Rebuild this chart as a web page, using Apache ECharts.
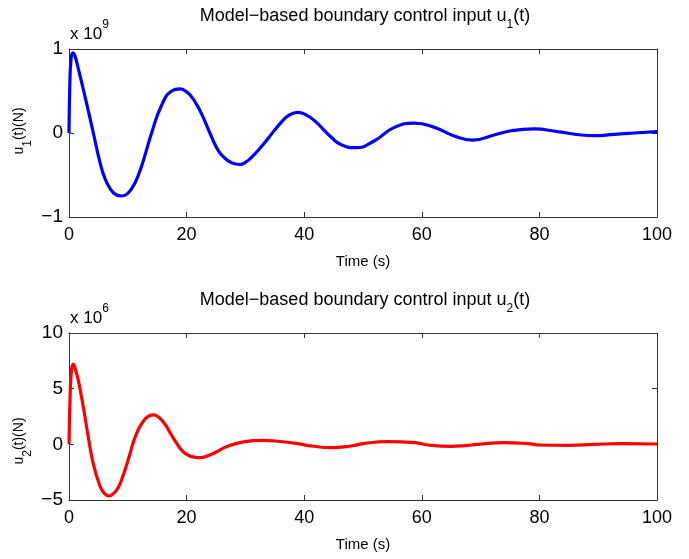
<!DOCTYPE html>
<html>
<head>
<meta charset="utf-8">
<script src="https://cdn.jsdelivr.net/npm/echarts@6/dist/echarts.min.js"></script>
<style>
html,body{margin:0;padding:0;background:#fff;}
#c{width:689px;height:559px;}
</style>
</head>
<body>
<div id="c"></div>
<script>
// Time ticks
var xTicks = [0, 20, 40, 60, 80, 100];
// u1(t) in units of 1e9 N : [time (s), value]
var u1Data = [
  [0, 0], [0.15, 0.6], [0.35, 0.88], [0.63, 0.955], [1.0, 0.92], [1.6, 0.76], [2.5, 0.5],
  [3.3, 0.26], [4.14, 0.0], [5.27, -0.35], [6.0, -0.52], [6.97, -0.66], [8.0, -0.735],
  [8.96, -0.75], [9.9, -0.725], [10.94, -0.63], [11.8, -0.5], [12.64, -0.33], [14.05, 0.0], [15.75, 0.33],
  [17.45, 0.5], [18.86, 0.525], [20.0, 0.49], [20.85, 0.43], [21.7, 0.34], [22.55, 0.227], [23.96, 0.0], [25.0, -0.16], [25.95, -0.26],
  [27.65, -0.355], [29.06, -0.375], [30.1, -0.345], [31.04, -0.29], [32.74, -0.16], [33.8, -0.07], [36.09, 0.127],
  [37.5, 0.215], [38.9, 0.246], [40.3, 0.215], [41.75, 0.147], [44.6, -0.05], [46.3, -0.14], [48.84, -0.175], [51.95, -0.092],
  [55.34, 0.067], [58.74, 0.118], [62.14, 0.067], [65.5, -0.035], [68.65, -0.084], [72.3, -0.024],
  [75.2, 0.027], [79.1, 0.048], [83.1, 0.016], [87.1, -0.024], [89.3, -0.032], [92.7, -0.016],
  [96.1, 0.0], [100, 0.016]
];
// u2(t) in units of 1e6 N : [time (s), value]
var u2Data = [
  [0, 0], [0.2, 4.5], [0.45, 6.8], [0.75, 7.19], [1.1, 6.7], [1.6, 5.7], [2.45, 3.3], [3.3, 0.6],
  [4.15, -1.8], [5.27, -3.74], [6.0, -4.4], [6.8, -4.64], [7.6, -4.4], [8.4, -3.85], [9.1, -2.95],
  [9.8, -1.85], [10.4, -0.8], [10.95, 0.2], [11.6, 1.1], [12.36, 1.85], [13.3, 2.45], [14.35, 2.64],
  [15.3, 2.4], [16.33, 1.8], [17.3, 0.95], [18.3, 0.1], [19.3, -0.6], [20.3, -0.98], [21.3, -1.15],
  [22.3, -1.2], [23.5, -1.05], [24.8, -0.75], [27.1, -0.15], [29.9, 0.24], [32.8, 0.36], [35, 0.3],
  [38.9, 0.06], [41.2, -0.15], [44.6, -0.3], [48, -0.15], [50.3, 0.09], [54.25, 0.24], [58.8, 0.15],
  [61.05, -0.06], [65, -0.18], [67.3, -0.12], [69.56, 0.0], [74.1, 0.15], [78.06, 0.06],
  [80.05, -0.06], [84.9, -0.09], [89.4, 0.0], [93.9, 0.06], [100, 0.03]
];
var u1Ticks = [-1, 0, 1];
var u2Ticks = [-5, 0, 5, 10];

var FONT = '"Liberation Sans", Arial, Helvetica, sans-serif';
var AX = '#333333';

var chart = echarts.init(document.getElementById('c'), null, {renderer: 'canvas'});

function xAxisPair(gi) {
  return [
    {
      type: 'value', gridIndex: gi, position: 'bottom',
      min: xTicks[0], max: xTicks[xTicks.length - 1], interval: 20,
      name: 'Time (s)', nameLocation: 'middle', nameGap: 37,
      nameTextStyle: {fontFamily: FONT, fontSize: 15, color: '#000'},
      axisLine: {show: true, onZero: false, lineStyle: {color: AX, width: 1}},
      axisTick: {show: true, inside: true, length: 5, lineStyle: {color: AX}},
      axisLabel: {show: true, margin: 9, fontFamily: FONT, fontSize: 18, color: '#000'},
      splitLine: {show: false}
    },
    {
      type: 'value', gridIndex: gi, position: 'top',
      min: xTicks[0], max: xTicks[xTicks.length - 1], interval: 20,
      axisLine: {show: true, onZero: false, lineStyle: {color: AX, width: 1}},
      axisTick: {show: true, inside: true, length: 5, lineStyle: {color: AX}},
      axisLabel: {show: false},
      splitLine: {show: false}
    }
  ];
}
function yAxisPair(gi, ticks) {
  var mn = ticks[0], mx = ticks[ticks.length - 1], iv = ticks[1] - ticks[0];
  return [
    {
      type: 'value', gridIndex: gi, position: 'left', min: mn, max: mx, interval: iv,
      axisLine: {show: true, onZero: false, lineStyle: {color: AX, width: 1}},
      axisTick: {show: true, inside: true, length: 5, lineStyle: {color: AX}},
      axisLabel: {show: true, margin: 6, fontFamily: FONT, fontSize: 19, color: '#000',
        formatter: function (v) { return v < 0 ? '\u2212' + Math.abs(v) : String(v); }},
      splitLine: {show: false}
    },
    {
      type: 'value', gridIndex: gi, position: 'right', min: mn, max: mx, interval: iv,
      axisLine: {show: true, onZero: false, lineStyle: {color: AX, width: 1}},
      axisTick: {show: true, inside: true, length: 5, lineStyle: {color: AX}},
      axisLabel: {show: false},
      splitLine: {show: false}
    }
  ];
}

var richBase = {
  sub: {fontFamily: FONT, fontSize: 12, verticalAlign: 'bottom', lineHeight: 30, fill: '#000'},
  sup: {fontFamily: FONT, fontSize: 12, verticalAlign: 'top', lineHeight: 30, fill: '#000'}
};

function txt(x, y, text, size, extra) {
  var s = {
    text: text, x: 0, y: 0, fill: '#000', fontFamily: FONT, fontSize: size,
    align: 'center', verticalAlign: 'middle', lineHeight: 30,
    rich: richBase
  };
  if (extra) for (var k in extra) s[k] = extra[k];
  return {type: 'text', x: x, y: y, style: s, silent: true};
}

var graphics = [
  txt(365, 16, 'Model\u2212based boundary control input u{sub|1}(t)', 18),
  txt(365, 300, 'Model\u2212based boundary control input u{sub|2}(t)', 18),
  txt(70, 34, 'x 10{sup|9}', 17, {align: 'left'}),
  txt(70, 318, 'x 10{sup|6}', 17, {align: 'left'})
];
var yn1 = txt(19, 131, 'u{sub|1}(t)(N)', 14);
yn1.rotation = Math.PI / 2;
var yn2 = txt(19, 441, 'u{sub|2}(t)(N)', 14);
yn2.rotation = Math.PI / 2;
graphics.push(yn1, yn2);

var xa = xAxisPair(0).concat(xAxisPair(1));
var ya = yAxisPair(0, u1Ticks).concat(yAxisPair(1, u2Ticks));

chart.setOption({
  animation: false,
  backgroundColor: '#fff',
  grid: [
    {left: 69, top: 49, width: 588, height: 168, containLabel: false},
    {left: 69, top: 333, width: 588, height: 167, containLabel: false}
  ],
  xAxis: xa,
  yAxis: ya,
  graphic: graphics,
  series: [
    {
      type: 'line', xAxisIndex: 0, yAxisIndex: 0, data: u1Data,
      smooth: 0.5, symbol: 'none', lineStyle: {color: '#0000ff', width: 3.2}
    },
    {
      type: 'line', xAxisIndex: 2, yAxisIndex: 2, data: u2Data,
      smooth: 0.5, symbol: 'none', lineStyle: {color: '#ff0000', width: 3.2}
    }
  ]
});
</script>
</body>
</html>
